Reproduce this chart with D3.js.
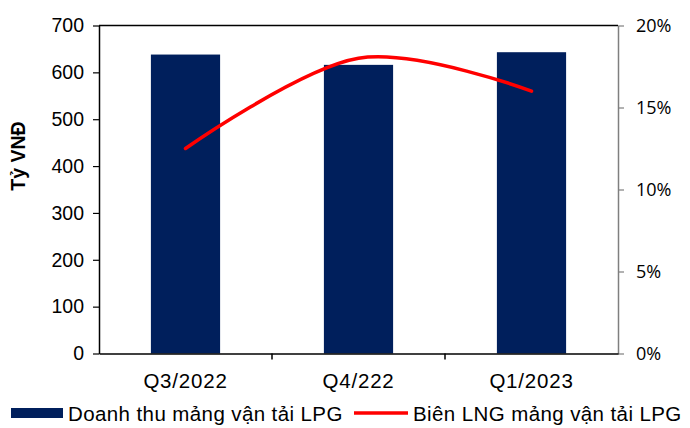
<!DOCTYPE html>
<html>
<head>
<meta charset="utf-8">
<script src="https://cdn.jsdelivr.net/npm/d3@7"></script>
<style>
  html, body { margin: 0; padding: 0; background: #fff; }
  svg { display: block; }
</style>
</head>
<body>
<svg id="chart" width="690" height="428"></svg>
<script>
// Quarterly revenue of the LPG shipping segment (bn VND) and its net margin
const categories = ["Q3/2022", "Q4/222", "Q1/2023"];
const revenue = [638, 616, 643];
const margin = [0.125, 0.180, 0.160];
const leftTicks = [0, 100, 200, 300, 400, 500, 600, 700];
const rightTicks = [0, 0.05, 0.10, 0.15, 0.20];
const seriesNames = ["Doanh thu mảng vận tải LPG", "Biên LNG mảng vận tải LPG"];
const yTitle = "Tỷ VNĐ";

const svg = d3.select("#chart");
const m = { left: 99, right: 618, top: 25.5, bottom: 353.5 };
const barColor = "#001F5C";
const lineColor = "#FF0000";
const latin = "Liberation Sans, Arial, sans-serif";

const x = d3.scaleBand().domain(categories).range([m.left, m.right])
  .paddingInner(0.6).paddingOuter(0.3);
const yL = d3.scaleLinear().domain([0, 700]).range([m.bottom, m.top]);
const yR = d3.scaleLinear().domain([0, 0.20]).range([m.bottom, m.top]);

// bars
svg.append("g").selectAll("rect").data(categories).join("rect")
  .attr("x", d => x(d))
  .attr("width", x.bandwidth())
  .attr("y", (d, i) => yL(revenue[i]))
  .attr("height", (d, i) => yL(0) - yL(revenue[i]))
  .attr("fill", barColor);

// frame top line
svg.append("line").attr("x1", m.left).attr("x2", m.right)
  .attr("y1", m.top).attr("y2", m.top)
  .attr("stroke", "#000").attr("stroke-width", 1.5);

// left axis
const gL = svg.append("g").attr("transform", `translate(${m.left},0)`)
  .call(d3.axisLeft(yL).tickValues(leftTicks).tickSize(6).tickSizeOuter(0).tickPadding(9));
gL.select(".domain").attr("stroke", "#000").attr("stroke-width", 1.5);
gL.selectAll(".tick line").attr("stroke", "#000").attr("stroke-width", 1.2);
gL.selectAll("text").attr("font-family", latin).attr("font-size", 19.5).attr("fill", "#000");

// right axis
const gR = svg.append("g").attr("transform", `translate(${m.right},0)`)
  .call(d3.axisRight(yR).tickValues(rightTicks).tickFormat(d3.format(".0%"))
    .tickSize(6).tickSizeOuter(0).tickPadding(12));
gR.select(".domain").attr("stroke", "#7f7f7f").attr("stroke-width", 1.5);
gR.selectAll(".tick line").attr("stroke", "#7f7f7f").attr("stroke-width", 1.2);
gR.selectAll("text").attr("font-family", "Open Sans, sans-serif").attr("font-size", 18).attr("fill", "#000");

// bottom axis with ticks at category boundaries
const gB = svg.append("g").attr("transform", `translate(0,${m.bottom})`)
  .call(d3.axisBottom(x).tickSize(0).tickPadding(20));
gB.select(".domain").attr("stroke", "#000").attr("stroke-width", 1.5);
gB.selectAll("text").attr("font-family", latin).attr("font-size", 20.5)
  .attr("letter-spacing", 0.8).attr("fill", "#000");
const step = x.step();
svg.append("g").selectAll("line").data(d3.range(1, categories.length)).join("line")
  .attr("x1", i => m.left + i * step).attr("x2", i => m.left + i * step)
  .attr("y1", m.bottom).attr("y2", m.bottom + 6)
  .attr("stroke", "#000").attr("stroke-width", 1.5);

// margin line (smoothed)
const line = d3.line()
  .x((d, i) => x(categories[i]) + x.bandwidth() / 2)
  .y(d => yR(d))
  .curve(d3.curveCardinal.tension(0));
svg.append("path").datum(margin)
  .attr("d", line)
  .attr("fill", "none")
  .attr("stroke", lineColor)
  .attr("stroke-width", 3.5)
  .attr("stroke-linecap", "round");

// y-axis title
svg.append("text")
  .attr("transform", `translate(25,156) rotate(-90)`)
  .attr("text-anchor", "middle")
  .attr("font-family", latin).attr("font-size", 19.5).attr("font-weight", "bold")
  .text(yTitle);

// legend
const lg = svg.append("g").attr("font-family", latin).attr("font-size", 20.5)
  .attr("letter-spacing", 0.4);
lg.append("rect").attr("x", 11).attr("y", 408).attr("width", 52).attr("height", 10).attr("fill", barColor);
lg.append("text").attr("x", 68).attr("y", 421).text(seriesNames[0]);
lg.append("line").attr("x1", 354).attr("x2", 408).attr("y1", 413).attr("y2", 413)
  .attr("stroke", lineColor).attr("stroke-width", 3.5);
lg.append("text").attr("x", 413).attr("y", 421).text(seriesNames[1]);
</script>
</body>
</html>
